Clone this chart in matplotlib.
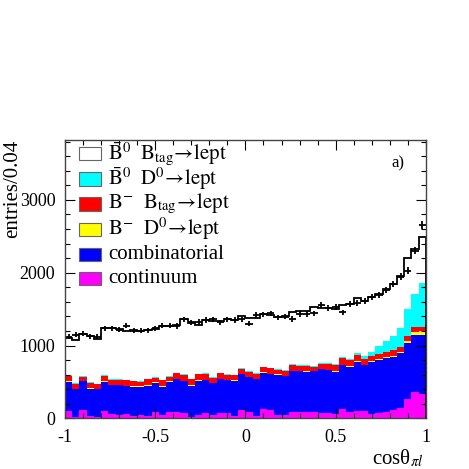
import numpy as np
import matplotlib
matplotlib.use("Agg")
import matplotlib.pyplot as plt
from matplotlib.patches import Rectangle

plt.rcParams['font.family'] = ['Liberation Serif', 'DejaVu Serif']
plt.rcParams['mathtext.fontset'] = 'stix'

# 50 bins of 0.04 in cos(theta_pi l); values are stacked tops
edges = np.linspace(-1.0, 1.0, 51)

top_continuum = [100, 14, 119, 32, 14, 100, 60, 46, 64, 32, 41, 32, 82, 50, 87, 87, 73,
                 23, 46, 78, 41, 69, 69, 32, 114, 92, 27, 128, 114, 50, 50, 92, 92,
                 90, 90, 70, 78, 60, 124, 90, 100, 100, 55, 78, 90, 115, 137, 260, 360, 335]
top_comb = [503, 398, 508, 407, 398, 503, 458, 453, 444, 435, 435, 448, 490, 435, 503, 540, 508,
            448, 517, 526, 480, 535, 522, 517, 609, 563, 535, 627, 609, 600, 581, 650, 650,
            640, 650, 673, 663, 640, 732, 710, 778, 732, 778, 800, 824, 847, 892, 1030, 1144, 1144]
top_bm_d0 = [508, 403, 513, 412, 403, 508, 463, 458, 449, 440, 440, 453, 495, 440, 508, 545, 513,
             453, 522, 531, 485, 540, 527, 522, 614, 568, 540, 632, 614, 605, 586, 655, 655,
             645, 655, 678, 668, 645, 737, 715, 783, 737, 783, 810, 836, 859, 907, 1060, 1189, 1199]
top_bm_tag = [581, 476, 572, 490, 467, 581, 526, 531, 522, 508, 503, 535, 554, 522, 572, 618, 595,
              535, 604, 613, 558, 618, 600, 590, 677, 636, 613, 700, 686, 664, 654, 728, 723,
              718, 710, 750, 746, 728, 824, 800, 870, 810, 856, 883, 906, 938, 975, 1130, 1250, 1258]
top_b0_d0 = [592, 486, 583, 500, 478, 592, 537, 541, 533, 519, 514, 546, 565, 533, 583, 629, 606,
             546, 615, 624, 569, 629, 611, 601, 688, 647, 624, 711, 697, 675, 666, 740, 736,
             732, 725, 762, 758, 742, 837, 820, 892, 856, 915, 993, 1066, 1130, 1236, 1497, 1707, 1853]
top_b0_tag = [1100, 1075, 1165, 1135, 1095, 1245, 1245, 1225, 1195, 1210, 1205, 1213, 1225, 1270, 1273, 1280, 1360,
              1315, 1280, 1355, 1337, 1337, 1360, 1351, 1406, 1374, 1374, 1433, 1419, 1397, 1406, 1456, 1474,
              1474, 1525, 1511, 1511, 1500, 1555, 1570, 1648, 1616, 1660, 1705, 1775, 1850, 1955, 2200, 2330, 2495]
data = [1120, 1150, 1165, 1130, 1120, 1240, 1236, 1215, 1270, 1205, 1200, 1210, 1236, 1275, 1273, 1268, 1358,
        1320, 1325, 1351, 1360, 1319, 1360, 1351, 1360, 1300, 1419, 1429, 1442, 1387, 1397, 1365, 1433,
        1433, 1442, 1557, 1515, 1530, 1456, 1566, 1589, 1616, 1671, 1690, 1763, 1845, 1946, 2030, 2300, 2656]

layers = [
    (top_continuum, '#ff00ff', 'continuum'),
    (top_comb, '#0000ff', 'combinatorial'),
    (top_bm_d0, '#ffff00', r'$\mathrm{B}^{-}\ \ \mathrm{D}^{0}\!\rightarrow\!\mathrm{lept}$'),
    (top_bm_tag, '#ff0000', r'$\mathrm{B}^{-}\ \ \mathrm{B}_{\mathrm{tag}}\!\rightarrow\!\mathrm{lept}$'),
    (top_b0_d0, '#00ffff', r'$\bar{\mathrm{B}}^{0}\ \ \mathrm{D}^{0}\!\rightarrow\!\mathrm{lept}$'),
    (top_b0_tag, '#ffffff', r'$\bar{\mathrm{B}}^{0}\ \ \mathrm{B}_{\mathrm{tag}}\!\rightarrow\!\mathrm{lept}$'),
]

fig = plt.figure(figsize=(4.69, 4.69), dpi=100)
ax = fig.add_axes([0.1386, 0.108, 0.7694, 0.5935])

left = edges[:-1]
width = np.diff(edges)
prev = np.zeros(50)
for tops, color, label in layers:
    tops = np.asarray(tops, float)
    ax.bar(left, tops - prev, width=width, bottom=prev, align='edge',
           color=color, linewidth=0)
    prev = tops

ax.stairs(top_b0_tag, edges, color='black', lw=1.3)

centers = 0.5 * (edges[:-1] + edges[1:])
data = np.asarray(data, float)
ax.errorbar(centers, data, xerr=0.02, yerr=np.sqrt(data), fmt='none',
            ecolor='black', elinewidth=1.3, capsize=0)

ax.set_xlim(-1, 1)
ax.set_ylim(0, 3823)
ax.set_xticks([-1, -0.5, 0, 0.5, 1])
ax.set_xticklabels(['-1', '-0.5', '0', '0.5', '1'])
ax.set_yticks([0, 1000, 2000, 3000])
ax.set_xticks(np.arange(-1, 1.001, 0.1), minor=True)
ax.set_yticks(np.arange(0, 3801, 200), minor=True)
ax.tick_params(which='both', direction='in', top=True, right=True, labelsize=13)
ax.tick_params(which='major', length=7, width=0.8)
ax.tick_params(which='minor', length=3.5, width=0.8)
ax.tick_params(axis='x', pad=8)
ax.tick_params(axis='y', pad=7)
for s in ax.spines.values():
    s.set_linewidth(1.0)
    s.set_color('#444444')

ax.text(0.995, -0.105, 'cosθ$_{\\pi l}$', transform=ax.transAxes,
        ha='right', va='top', fontsize=15)
ax.text(-0.145, 1.0, 'entries/0.04', transform=ax.transAxes, rotation=90,
        ha='center', va='top', fontsize=15)
ax.text(0.845, 3500, 'a)', fontsize=12, ha='center', va='center')

# legend, drawn by hand in axes coordinates
rows_y = [0.953, 0.860, 0.770, 0.680, 0.590, 0.501]
for (tops, color, label), y in zip(layers[::-1], rows_y):
    ax.add_patch(Rectangle((0.039, y - 0.0235), 0.061, 0.047, transform=ax.transAxes,
                           facecolor=color, edgecolor='#666666', lw=0.8, zorder=5))
    ax.text(0.119, y, label, transform=ax.transAxes, ha='left', va='center',
            fontsize=15, zorder=5)

fig.savefig('out.png', dpi=100)
